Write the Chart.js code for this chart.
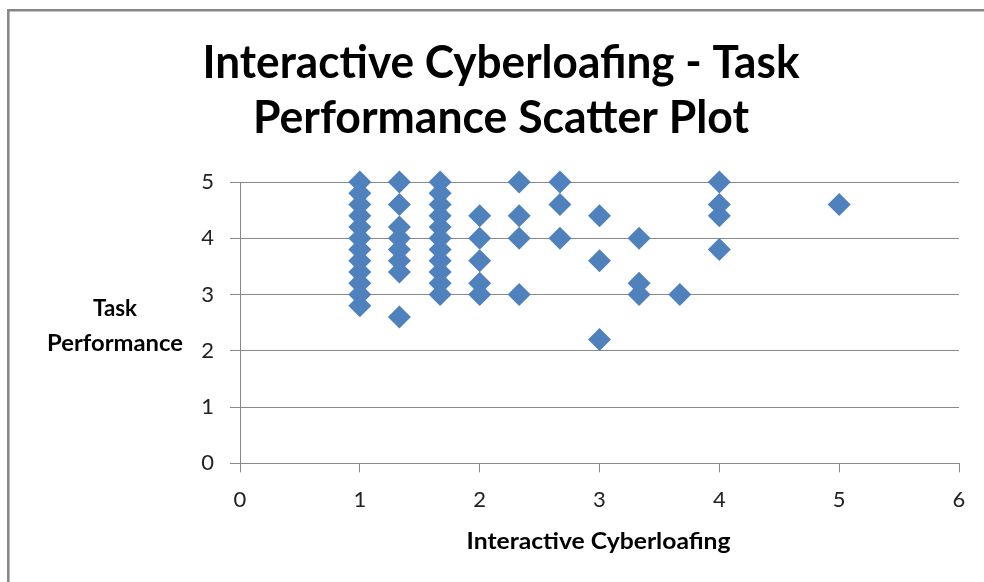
<!DOCTYPE html>
<html>
<head>
<meta charset="utf-8">
<script src="https://cdn.jsdelivr.net/npm/chart.js@4/dist/chart.umd.min.js"></script>
<style>
  html, body { margin: 0; padding: 0; background: #ffffff; }
  #wrap { width: 984px; height: 582px; }
</style>
</head>
<body>
<div id="wrap"><canvas id="c" width="984" height="582"></canvas></div>
<script>
const chartTitleLines = ["Interactive Cyberloafing - Task", "Performance Scatter Plot"];
const xAxisTitle = "Interactive Cyberloafing";
const yAxisTitleLines = ["Task", "Performance"];
const xTicks = [0, 1, 2, 3, 4, 5, 6];
const yTicks = [0, 1, 2, 3, 4, 5];

const cyberloafing = [
  1, 1, 1, 1, 1, 1, 1, 1, 1, 1, 1, 1,
  1.33, 1.33, 1.33, 1.33, 1.33, 1.33, 1.33, 1.33,
  1.67, 1.67, 1.67, 1.67, 1.67, 1.67, 1.67, 1.67, 1.67, 1.67, 1.67,
  2, 2, 2, 2, 2,
  2.33, 2.33, 2.33, 2.33,
  2.67, 2.67, 2.67,
  3, 3, 3,
  3.33, 3.33, 3.33,
  3.67,
  4, 4, 4, 4,
  5
];
const taskPerformance = [
  5, 4.8, 4.6, 4.4, 4.2, 4.0, 3.8, 3.6, 3.4, 3.2, 3.0, 2.8,
  5, 4.6, 4.2, 4.0, 3.8, 3.6, 3.4, 2.6,
  5, 4.8, 4.6, 4.4, 4.2, 4.0, 3.8, 3.6, 3.4, 3.2, 3.0,
  4.4, 4.0, 3.6, 3.2, 3.0,
  5, 4.4, 4.0, 3.0,
  5, 4.6, 4.0,
  4.4, 3.6, 2.2,
  4.0, 3.2, 3.0,
  3.0,
  5, 4.6, 4.4, 3.8,
  4.6
];

const points = cyberloafing.map((x, i) => ({ x: x, y: taskPerformance[i] }));

const FONT = "Lato, 'Open Sans', 'DejaVu Sans', sans-serif";

function drawFitted(ctx, text, cx, baseline, size, targetWidth) {
  ctx.save();
  ctx.font = "bold " + size + "px " + FONT;
  const w = ctx.measureText(text).width;
  const sx = targetWidth / w;
  ctx.translate(cx, baseline);
  ctx.scale(sx, 1);
  ctx.textAlign = "center";
  ctx.textBaseline = "alphabetic";
  ctx.fillStyle = "#000000";
  ctx.fillText(text, 0, 0);
  ctx.restore();
}

const decorPlugin = {
  id: "decor",
  beforeDraw(chart) {
    const ctx = chart.ctx;
    ctx.save();
    ctx.fillStyle = "#ffffff";
    ctx.fillRect(0, 0, chart.width, chart.height);
    ctx.strokeStyle = "#868686";
    ctx.lineWidth = 2.5;
    ctx.beginPath();
    ctx.moveTo(8.3, chart.height + 2);
    ctx.lineTo(8.3, 10.3);
    ctx.lineTo(chart.width + 2, 10.3);
    ctx.stroke();
    ctx.restore();
  },
  afterDraw(chart) {
    const ctx = chart.ctx;
    const area = chart.chartArea;
    drawFitted(ctx, chartTitleLines[0], 501, 78, 45, 597);
    drawFitted(ctx, chartTitleLines[1], 501, 133, 45, 496);
    drawFitted(ctx, yAxisTitleLines[0], 115, 316, 22, 44);
    drawFitted(ctx, yAxisTitleLines[1], 115, 351, 22, 136);
    drawFitted(ctx, xAxisTitle, (area.left + area.right) / 2 - 1, 549, 23, 264);
  }
};

new Chart(document.getElementById("c"), {
  type: "scatter",
  data: {
    datasets: [{
      data: points,
      clip: false,
      pointStyle: "rectRot",
      pointRadius: 11.5,
      pointHoverRadius: 11.5,
      backgroundColor: "#4F81BD",
      borderColor: "#4F81BD",
      borderWidth: 0
    }]
  },
  options: {
    responsive: false,
    animation: false,
    events: [],
    layout: { padding: { left: 0, right: 25, top: 182, bottom: 30 } },
    plugins: {
      legend: { display: false },
      tooltip: { enabled: false },
      title: { display: false }
    },
    scales: {
      x: {
        type: "linear",
        min: xTicks[0],
        max: xTicks[xTicks.length - 1],
        afterBuildTicks(scale) { scale.ticks = xTicks.map(v => ({ value: v })); },
        afterFit(scale) { scale.height = 88.7; },
        grid: { drawOnChartArea: false, drawTicks: true, tickLength: 9, color: "#888888", lineWidth: 1 },
        border: { display: true, color: "#888888", width: 1 },
        ticks: { color: "#222222", font: { family: FONT, size: 22 }, padding: 14, maxRotation: 0 },
        title: { display: false }
      },
      y: {
        type: "linear",
        min: yTicks[0],
        max: yTicks[yTicks.length - 1],
        afterBuildTicks(scale) { scale.ticks = yTicks.map(v => ({ value: v })); },
        afterFit(scale) { scale.width = 240; },
        grid: { drawOnChartArea: true, drawTicks: true, tickLength: 10, color: "#888888", lineWidth: 1 },
        border: { display: true, color: "#888888", width: 1 },
        ticks: { color: "#222222", font: { family: FONT, size: 22 }, padding: 16 },
        title: { display: false }
      }
    }
  },
  plugins: [decorPlugin]
});
</script>
</body>
</html>
